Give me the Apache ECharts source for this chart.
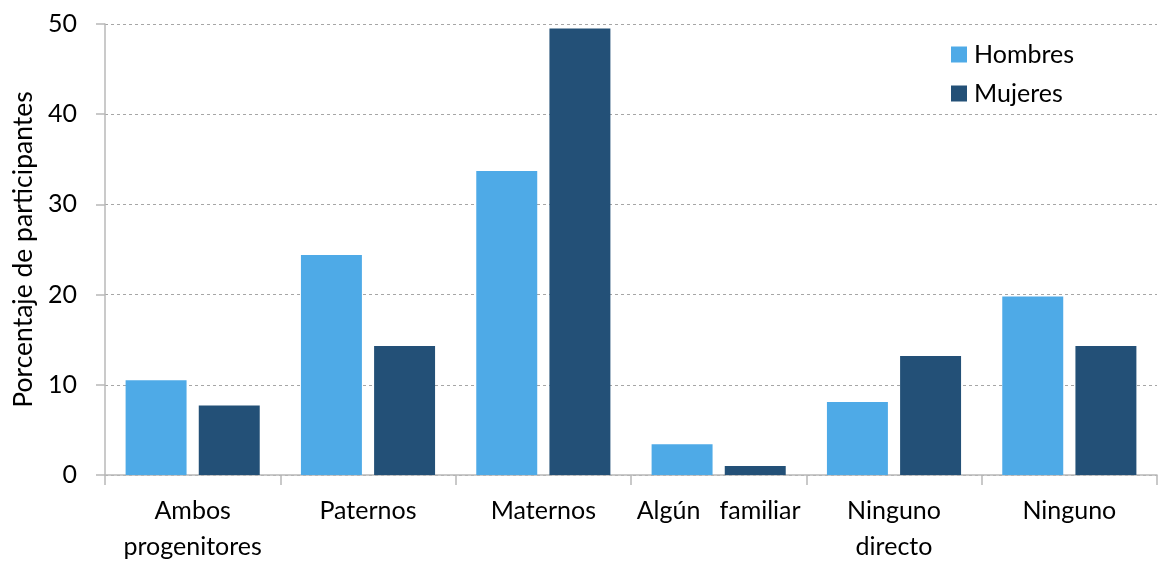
<!DOCTYPE html>
<html>
<head>
<meta charset="utf-8">
<script src="https://cdn.jsdelivr.net/npm/echarts@6/dist/echarts.min.js"></script>
<style>
html,body{margin:0;padding:0;background:#fff;}
#chart{width:1162px;height:583px;}
</style>
</head>
<body>
<div id="chart"></div>
<script>
const categories = ["Ambos\nprogenitores", "Paternos", "Maternos", "Algún   familiar", "Ninguno\ndirecto", "Ninguno"];
const seriesNames = ["Hombres", "Mujeres"];
const hombres = [10.5, 24.4, 33.7, 3.4, 8.1, 19.8];
const mujeres = [7.7, 14.3, 49.5, 1.0, 13.2, 14.3];
const yTicks = { min: 0, max: 50, interval: 10 };
const yAxisName = "Porcentaje de participantes";

const FONT = "Lato, 'Open Sans', sans-serif";
const chart = echarts.init(document.getElementById('chart'), null, {renderer: 'canvas'});
chart.setOption({
  animation: false,
  textStyle: { fontFamily: FONT, color: '#000' },
  grid: { left: 105, right: 5, top: 24, bottom: 108, containLabel: false, outerBoundsMode: 'none' },
  legend: {
    orient: 'vertical',
    left: 946, top: 37,
    padding: 5,
    itemWidth: 16, itemHeight: 16, itemGap: 14,
    icon: 'rect',
    textStyle: { fontFamily: FONT, fontSize: 25, lineHeight: 16, color: '#000', padding: [0,0,0,2] },
    data: seriesNames
  },
  xAxis: {
    type: 'category',
    data: categories,
    axisLine: { lineStyle: { color: '#b8b8b8', width: 1.5 } },
    axisTick: { show: true, length: 10, lineStyle: { color: '#b8b8b8', width: 1.5 } },
    axisLabel: { fontFamily: FONT, fontSize: 25, color: '#000', margin: 18, lineHeight: 36, interval: 0 }
  },
  yAxis: {
    type: 'value',
    min: yTicks.min, max: yTicks.max, interval: yTicks.interval,
    name: yAxisName,
    nameLocation: 'middle',
    nameGap: 67,
    nameRotate: 90,
    nameTextStyle: { fontFamily: FONT, fontSize: 26.5, color: '#000' },
    axisLine: { show: true, lineStyle: { color: '#b8b8b8', width: 1.5 } },
    axisTick: { show: true, length: 9, lineStyle: { color: '#b8b8b8', width: 1.5 } },
    axisLabel: { fontFamily: FONT, fontSize: 25, color: '#000', margin: 28 },
    splitLine: { show: true, lineStyle: { color: '#a6a6a6', type: [3, 3], width: 1 } }
  },
  series: [
    { name: seriesNames[0], type: 'bar', data: hombres, itemStyle: { color: '#4EAAE7' }, barGap: '20%', barCategoryGap: '23.5%' },
    { name: seriesNames[1], type: 'bar', data: mujeres, itemStyle: { color: '#235077' }, barGap: '20%', barCategoryGap: '23.5%' }
  ]
});
</script>
</body>
</html>
